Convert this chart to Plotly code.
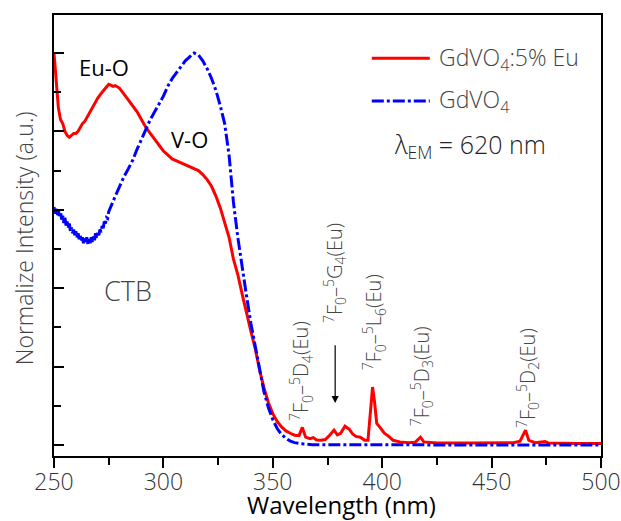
import plotly.graph_objects as go

# ---------------- data ----------------
eu_wl = [250, 251, 252, 253, 254, 255, 256, 257, 258, 259, 260, 261, 262, 263, 264, 265, 266, 267, 268,
         270, 272, 274, 275, 276, 277, 278, 279, 280, 282, 284, 286, 288, 290, 292, 294, 296, 298, 300,
         302, 304, 306, 308, 310, 312, 314, 316, 318, 320, 322, 324, 326, 328, 330, 332, 334, 336, 338,
         340, 342, 344, 346, 348, 350, 352, 354, 356, 358, 360, 362, 363.5, 365, 367, 368.5, 370, 372,
         374, 376, 378, 379.5, 381, 383, 385, 386.5, 388, 390, 392, 393.5, 394.5, 395.6, 396.5, 397.5,
         399, 401, 403, 405, 408, 412, 415, 417.5, 419, 425, 440, 460, 463, 465.5, 467, 470, 474.5, 476,
         490, 500]
eu_int = [1.0, 0.93, 0.86, 0.83, 0.82, 0.80, 0.79, 0.785, 0.79, 0.795, 0.795, 0.80, 0.81, 0.82, 0.825,
          0.835, 0.845, 0.855, 0.865, 0.885, 0.90, 0.915, 0.92, 0.918, 0.915, 0.917, 0.914, 0.91, 0.895,
          0.88, 0.865, 0.85, 0.83, 0.81, 0.795, 0.78, 0.765, 0.75, 0.74, 0.73, 0.725, 0.72, 0.715, 0.712,
          0.706, 0.70, 0.69, 0.677, 0.66, 0.635, 0.605, 0.57, 0.53, 0.475, 0.435, 0.385, 0.335, 0.29,
          0.245, 0.19, 0.145, 0.108, 0.08, 0.06, 0.046, 0.036, 0.03, 0.025, 0.024, 0.045, 0.02, 0.016,
          0.019, 0.013, 0.012, 0.014, 0.025, 0.038, 0.026, 0.03, 0.048, 0.04, 0.028, 0.022, 0.02, 0.012,
          0.012, 0.07, 0.148, 0.11, 0.055, 0.045, 0.03, 0.022, 0.012, 0.008, 0.006, 0.007, 0.02, 0.008,
          0.005, 0.005, 0.006, 0.01, 0.038, 0.012, 0.006, 0.009, 0.005, 0.004, 0.004]

v_wl = [250, 250.5, 251, 251.5, 252, 252.5, 253, 253.5, 254, 254.5, 255, 255.5, 256, 256.5, 257, 257.5,
        258, 258.5, 259, 259.5, 260, 260.5, 261, 261.5, 262, 262.5, 263, 263.5, 264, 264.5, 265, 265.5,
        266, 266.5, 267, 267.5, 268, 268.5, 269, 269.5, 270, 270.5, 271, 271.5, 272, 272.5, 273, 273.5,
        274, 274.5, 275, 276, 278, 280, 282, 284, 286, 288, 290, 292, 294, 296, 298,
        300, 302, 304, 306, 308, 310, 312, 313, 314, 316, 318, 320, 322, 324, 326, 328, 330, 332, 334,
        336, 338, 340, 342, 344, 346, 348, 350, 352, 354, 356, 358, 360, 363, 368, 400, 450, 500]
v_int = [0.607, 0.59, 0.605, 0.585, 0.60, 0.58, 0.595, 0.575, 0.585, 0.565, 0.58, 0.56, 0.57, 0.555,
         0.565, 0.545, 0.555, 0.54, 0.55, 0.535, 0.545, 0.53, 0.54, 0.525, 0.535, 0.52, 0.53, 0.515,
         0.528, 0.515, 0.53, 0.512, 0.525, 0.515, 0.53, 0.518, 0.532, 0.522, 0.54, 0.527, 0.545, 0.535,
         0.55, 0.543, 0.56, 0.553, 0.57, 0.565, 0.58, 0.578, 0.595, 0.607, 0.635,
         0.66, 0.685, 0.705, 0.727, 0.755, 0.78, 0.805, 0.83, 0.85, 0.87, 0.89, 0.915, 0.935, 0.95,
         0.965, 0.98, 0.99, 0.997, 1.0, 0.995, 0.98, 0.96, 0.935, 0.905, 0.865, 0.82, 0.74, 0.62, 0.53,
         0.45, 0.38, 0.31, 0.25, 0.19, 0.135, 0.095, 0.065, 0.042, 0.027, 0.017, 0.01, 0.006, 0.003,
         0.001, 0.0, 0.0, 0.0]

x_ticks = [250, 300, 350, 400, 450, 500]

transitions = [
    ("<sup>7</sup>F<sub>0</sub>–<sup>5</sup>D<sub>4</sub>(Eu)", 362.9, 0.056),
    ("<sup>7</sup>F<sub>0</sub>–<sup>5</sup>G<sub>4</sub>(Eu)", 378.4, 0.306),
    ("<sup>7</sup>F<sub>0</sub>–<sup>5</sup>L<sub>6</sub>(Eu)", 396.3, 0.186),
    ("<sup>7</sup>F<sub>0</sub>–<sup>5</sup>D<sub>3</sub>(Eu)", 418.2, 0.043),
    ("<sup>7</sup>F<sub>0</sub>–<sup>5</sup>D<sub>2</sub>(Eu)", 466.6, 0.038),
]

FONT = "Open Sans"
GRAY = "#444444"
DASH = "12px,3px,3px,3px"

fig = go.Figure()
fig.add_trace(go.Scatter(x=eu_wl, y=eu_int, mode="lines", name="GdVO4:5% Eu",
                         line=dict(color="#ff0000", width=3), showlegend=False))
fig.add_trace(go.Scatter(x=v_wl, y=v_int, mode="lines", name="GdVO4",
                         line=dict(color="#0000ff", width=3, dash=DASH),
                         showlegend=False))

annotations = []
for text, x, y in transitions:
    annotations.append(dict(x=x, y=y, xref="x", yref="y", text=text, textangle=-90,
                            showarrow=False, xanchor="center", yanchor="bottom",
                            font=dict(family=FONT, size=20, color=GRAY, weight=300)))
# arrow for 5G4
annotations.append(dict(x=378.5, y=0.107, ax=378.5, ay=0.28, xref="x", yref="y",
                        axref="x", ayref="y", text=" ", showarrow=True, arrowhead=2,
                        arrowsize=1.2, arrowwidth=1.2, arrowcolor="#000000"))
annotations += [
    dict(x=272.9, y=0.964, xref="x", yref="y", text="Eu-O", showarrow=False,
         font=dict(family=FONT, size=22, color="#000000")),
    dict(x=311.7, y=0.781, xref="x", yref="y", text="V-O", showarrow=False,
         font=dict(family=FONT, size=22, color="#000000")),
    dict(x=283.8, y=0.395, xref="x", yref="y", text="CTB", showarrow=False,
         font=dict(family=FONT, size=27, color=GRAY, weight=300)),
    dict(x=0.700, y=0.902, xref="paper", yref="paper", text="GdVO<sub>4</sub>:5% Eu",
         showarrow=False, xanchor="left", yanchor="middle",
         font=dict(family=FONT, size=23, color=GRAY, weight=300)),
    dict(x=0.700, y=0.805, xref="paper", yref="paper", text="GdVO<sub>4</sub>",
         showarrow=False, xanchor="left", yanchor="middle",
         font=dict(family=FONT, size=23, color=GRAY, weight=300)),
    dict(x=0.760, y=0.705, xref="paper", yref="paper", text="λ<sub>EM</sub> = 620 nm",
         showarrow=False, xanchor="center", yanchor="middle",
         font=dict(family=FONT, size=25, color="#222222", weight=300)),
    # axis titles
    dict(x=0.5265, y=-0.1100, xref="paper", yref="paper", text="Wavelength (nm)",
         showarrow=False, xanchor="center", yanchor="middle", borderpad=0,
         font=dict(family=FONT, size=24, color="#000000")),
    dict(x=-0.0548, y=0.494, xref="paper", yref="paper", text="Normalize Intensity (a.u.)",
         textangle=-90, showarrow=False, xanchor="center", yanchor="middle",
         font=dict(family=FONT, size=23, color=GRAY, weight=300)),
]

shapes = [
    dict(type="line", xref="paper", yref="paper", x0=0.581, x1=0.687, y0=0.902, y1=0.902,
         line=dict(color="#ff0000", width=3)),
    dict(type="line", xref="paper", yref="paper", x0=0.581, x1=0.687, y0=0.805, y1=0.805,
         line=dict(color="#0000ff", width=3, dash=DASH)),
]

fig.update_layout(
    width=621, height=521,
    margin=dict(l=54, r=20, t=15, b=65, autoexpand=False),
    paper_bgcolor="white", plot_bgcolor="white",
    showlegend=False,
    annotations=annotations, shapes=shapes,
    xaxis=dict(range=[250, 500], tickvals=x_ticks, ticks="outside", ticklen=10, tickwidth=2,
               tickcolor="#000000", showline=True, linecolor="#000000", linewidth=2, mirror=True,
               showgrid=False, zeroline=False, automargin=False, ticklabeloverflow="allow",
               ticklabelstandoff=-6,
               minor=dict(dtick=25, ticks="outside", ticklen=7, tickwidth=2, tickcolor="#000000",
                          showgrid=False),
               tickfont=dict(family=FONT, size=23, color="#333333", weight=300)),
    yaxis=dict(range=[-0.028, 1.097], tickvals=[0, 0.2, 0.4, 0.6, 0.8, 1.0], ticks="inside",
               ticklen=10, tickwidth=2, tickcolor="#000000", showticklabels=False,
               showline=True, linecolor="#000000", linewidth=2, mirror=True,
               showgrid=False, zeroline=False, automargin=False,
               minor=dict(dtick=0.1, ticks="inside", ticklen=7, tickwidth=2, tickcolor="#000000",
                          showgrid=False)),
)

fig.write_html("out.html")
